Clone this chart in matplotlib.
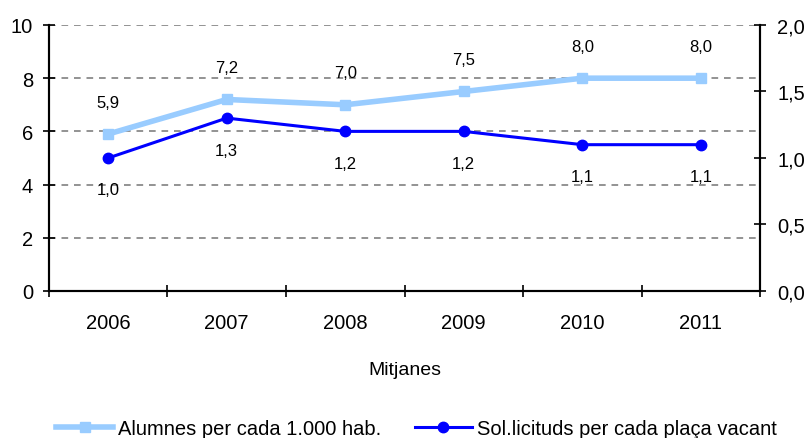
import numpy as np
import matplotlib.pyplot as plt

plt.rcParams['font.family'] = ['Liberation Sans', 'DejaVu Sans']

years = ['2006', '2007', '2008', '2009', '2010', '2011']
alumnes = [5.9, 7.2, 7.0, 7.5, 8.0, 8.0]
sollicituds = [1.0, 1.3, 1.2, 1.2, 1.1, 1.1]

light = '#99CCFF'
dark = '#0000FF'

fig = plt.figure(figsize=(8.07, 4.39), dpi=100)
ax = fig.add_axes([0.0607, 0.3349, 0.8811, 0.6059])
ax2 = ax.twinx()

x = np.arange(len(years))

for y in [2, 4, 6, 8, 10]:
    ax.axhline(y, color='#808080', lw=1.2, ls=(0, (4, 3.5)), zorder=0)

l1, = ax.plot(x, alumnes, color=light, lw=4, marker='s', ms=7.5,
              label='Alumnes per cada 1.000 hab.', zorder=3)
l2, = ax2.plot(x, sollicituds, color=dark, lw=2.2, marker='o', ms=7.5,
               label='Sol.licituds per cada plaça vacant', zorder=3)

for xi, v in zip(x, alumnes):
    ax.annotate(f'{v:.1f}'.replace('.', ','), (xi, v), xytext=(0, 23),
                textcoords='offset points', ha='center', va='center', fontsize=12)
for xi, v in zip(x, sollicituds):
    ax2.annotate(f'{v:.1f}'.replace('.', ','), (xi, v), xytext=(0, -23),
                 textcoords='offset points', ha='center', va='center', fontsize=12)

ax.set_xlim(-0.5, len(years) - 0.5)
ax.set_ylim(0, 10)
ax2.set_ylim(0, 2)
ax.set_yticks([0, 2, 4, 6, 8, 10])
ax2.set_yticks([0, 0.5, 1.0, 1.5, 2.0])
ax2.set_yticklabels(['0,0', '0,5', '1,0', '1,5', '2,0'])

ax.set_xticks(x)
ax.set_xticklabels(years)
ax.set_xticks(np.arange(-0.5, len(years)), minor=True)
ax.tick_params(axis='x', which='major', length=0, pad=15.5, labelsize=14.5)
ax.tick_params(axis='x', which='minor', length=9, width=1.2, direction='inout')
ax.tick_params(axis='y', length=9, width=1.2, direction='inout', pad=7, labelsize=14.5)
ax2.tick_params(axis='y', length=9, width=1.2, direction='inout', pad=8, labelsize=14.5)

for a in (ax, ax2):
    a.spines['top'].set_visible(False)
    for s in ('left', 'right', 'bottom'):
        a.spines[s].set_linewidth(1.5)

ax.set_xlabel('Mitjanes', fontsize=14, labelpad=21)

fig.legend([l1, l2], [l1.get_label(), l2.get_label()], loc='center',
           bbox_to_anchor=(0.516, 0.0225), ncol=2, frameon=False, fontsize=14.5,
           handlelength=2.8, handletextpad=0.25, columnspacing=1.7)

fig.savefig('out.png', dpi=100)
